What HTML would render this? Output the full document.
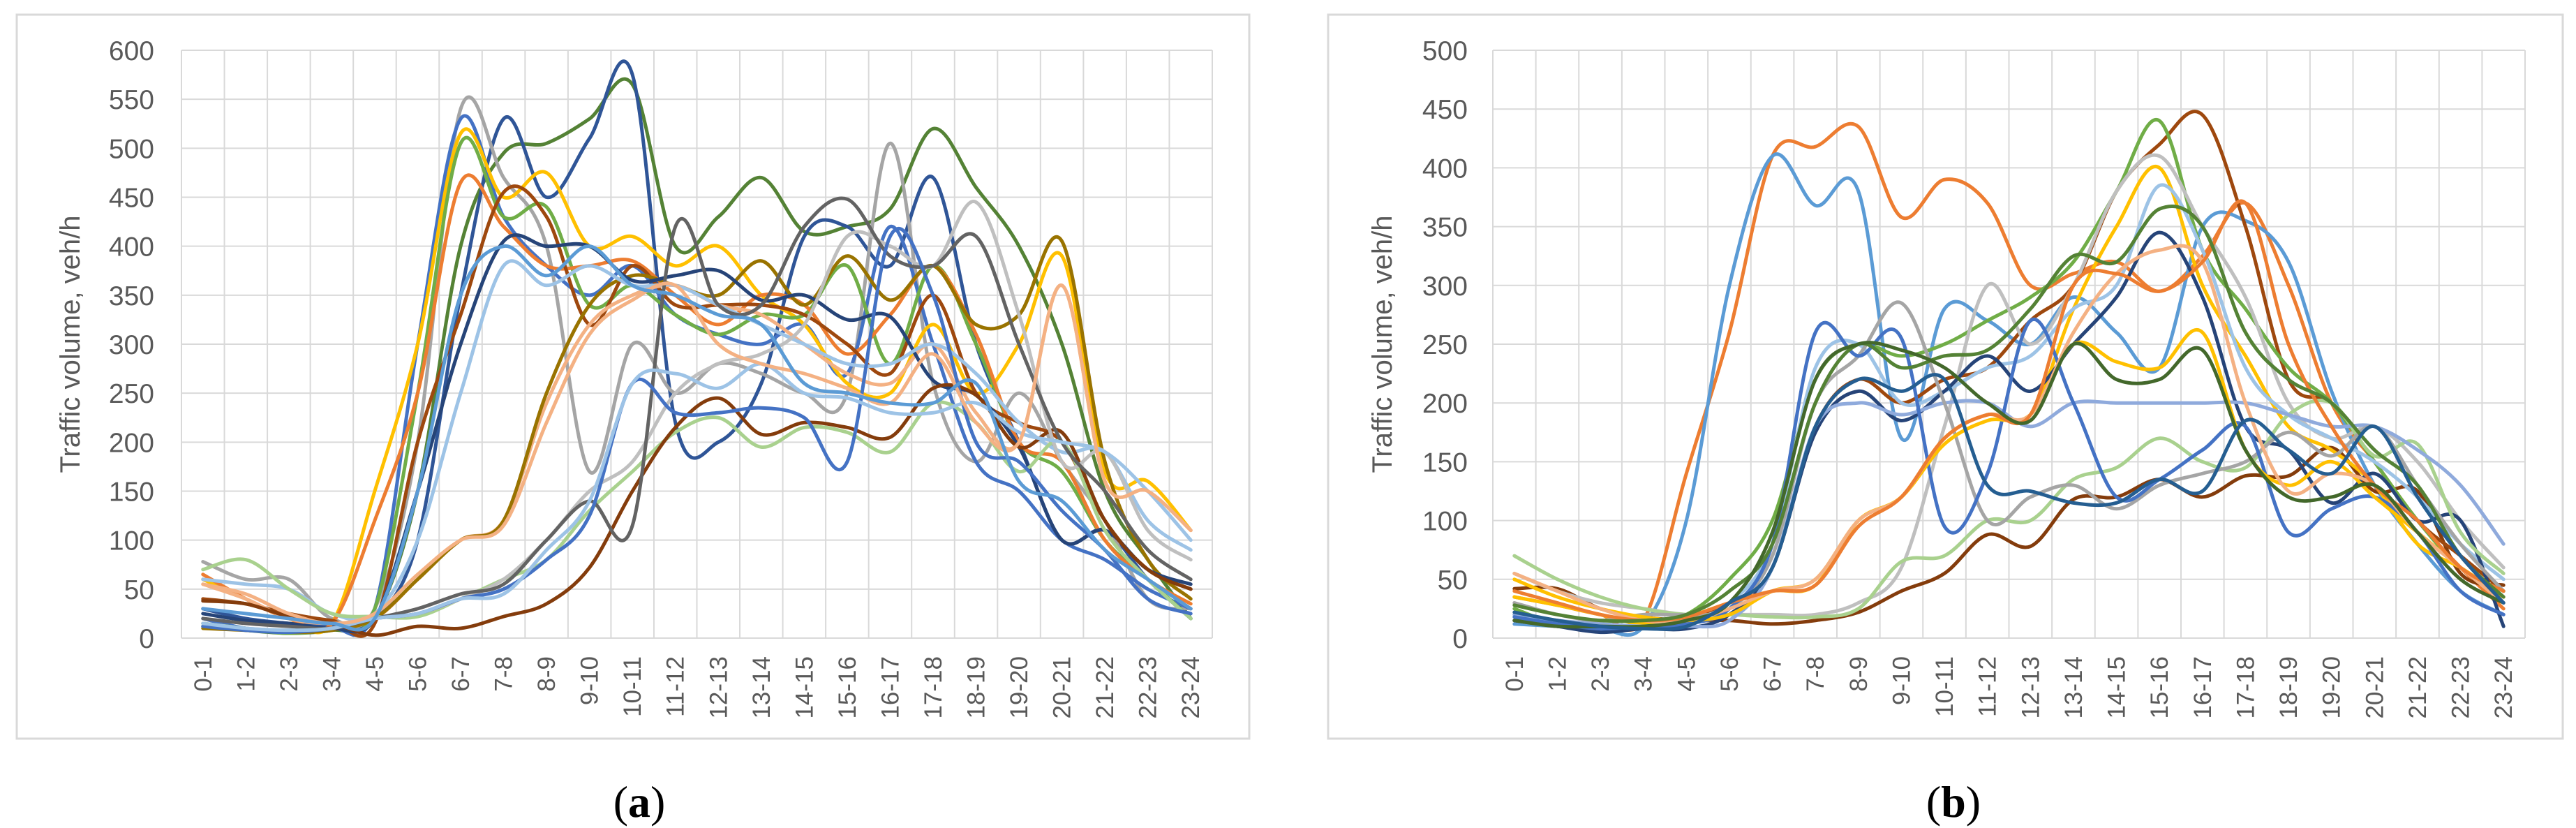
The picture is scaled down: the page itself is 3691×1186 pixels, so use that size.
<!DOCTYPE html>
<html><head><meta charset="utf-8"><style>
html,body{margin:0;padding:0;background:#fff;width:3691px;height:1186px;overflow:hidden}
svg{display:block}
text{font-family:"Liberation Sans",sans-serif}
</style></head><body>
<svg id="chart" width="3691" height="1186" viewBox="0 0 3691 1186"></svg>
<script>
const categories=["0-1","1-2","2-3","3-4","4-5","5-6","6-7","7-8","8-9","9-10","10-11","11-12","12-13","13-14","14-15","15-16","16-17","17-18","18-19","19-20","20-21","21-22","22-23","23-24"];
const colorsA=["#548235","#2F5597","#A5A5A5","#4472C4","#FFC000","#70AD47","#ED7D31","#9E480E","#F4B183","#997300","#264478","#9DC3E6","#A9D18E","#843C0C","#BFBFBF","#636363","#4472C4","#9DC3E6","#F4B183","#5B9BD5"];
const colorsB=["#ED7D31","#5B9BD5","#843C0C","#9E480E","#70AD47","#FFC000","#BFBFBF","#9DC3E6","#264478","#A9D18E","#8FAADC","#A5A5A5","#4472C4","#FFC000","#F4B183","#ED7D31","#548235","#43682B","#255E91"];
const ticksA=[0,50,100,150,200,250,300,350,400,450,500,550,600];
const ticksB=[0,50,100,150,200,250,300,350,400,450,500];
const seriesA1=[12,8,5,8,20,150,400,495,505,530,565,400,430,470,415,420,438,520,460,400,300,150,80,20];
const seriesA2=[30,20,15,12,20,100,350,530,450,510,575,220,200,260,410,420,380,470,300,200,100,110,60,20];
const seriesA3=[78,60,60,20,30,200,540,470,400,170,300,250,280,270,250,250,505,260,180,250,180,120,40,30];
const seriesA4=[20,10,8,10,30,300,530,430,380,350,380,330,310,300,320,270,420,300,180,150,100,80,50,30];
const seriesA5=[60,40,20,15,150,300,515,450,475,400,410,380,400,350,320,260,250,320,250,300,390,170,160,110];
const seriesA6=[15,10,5,10,30,250,505,430,440,340,360,330,310,330,330,380,280,380,300,200,170,100,60,20];
const seriesA7=[65,40,20,15,120,250,465,420,380,380,385,350,320,350,340,290,330,380,310,200,180,100,60,35];
const seriesA8=[40,35,25,18,15,200,330,455,430,320,380,340,340,340,330,300,270,350,250,220,200,120,70,50];
const seriesA9=[55,40,20,15,20,60,100,120,240,320,350,360,340,330,300,270,260,300,230,200,360,160,150,110];
const seriesA10=[10,8,6,8,20,60,100,120,250,340,370,360,350,385,340,390,345,380,320,330,405,180,80,40];
const seriesA11=[25,18,15,10,20,150,300,405,400,400,365,370,375,345,350,325,328,263,248,195,100,110,70,55];
const seriesA12=[60,55,50,25,25,100,250,380,360,380,360,360,340,320,300,280,280,300,270,220,190,190,120,90];
const seriesA13=[70,80,50,25,22,22,40,60,80,130,170,210,225,195,215,210,190,240,220,170,200,110,60,20];
const seriesA14=[38,35,22,15,3,12,10,22,35,72,150,215,245,208,220,215,205,255,248,195,210,120,70,50];
const seriesA15=[15,10,8,10,20,25,40,60,100,150,180,250,280,290,320,410,400,380,445,330,180,190,110,80];
const seriesA16=[20,15,12,10,20,30,45,55,100,140,115,420,340,340,420,448,390,380,410,300,200,150,90,60];
const seriesA17=[12,8,6,10,20,25,40,50,80,125,260,230,230,235,225,180,410,350,200,180,130,90,40,25];
const seriesA18=[15,10,8,10,20,25,40,45,90,140,260,270,255,280,250,245,230,230,240,210,200,190,150,100];
const seriesA19=[55,45,25,15,25,65,100,115,220,310,345,360,300,280,270,255,240,290,220,200,360,160,150,110];
const seriesA20=[30,25,20,15,20,150,350,400,370,400,360,350,330,320,260,250,240,240,260,160,140,90,60,30];
const seriesB1=[35,28,20,15,140,260,410,418,435,358,390,370,300,310,320,295,325,370,300,200,150,100,60,25];
const seriesB2=[12,10,8,10,100,300,410,368,380,170,280,270,250,290,260,230,350,355,320,210,130,80,40,20];
const seriesB3=[42,42,25,18,15,15,12,15,22,40,55,88,78,118,120,135,120,138,138,162,125,125,55,45];
const seriesB4=[15,10,8,10,15,30,60,180,220,200,220,230,270,300,380,420,445,350,220,200,150,100,70,40];
const seriesB5=[25,12,10,12,20,50,100,220,250,240,250,270,290,320,380,440,330,280,230,200,150,100,60,40];
const seriesB6=[35,28,20,12,18,30,40,45,100,120,170,190,190,280,350,400,300,240,180,160,130,80,60,35];
const seriesB7=[55,40,30,25,20,20,20,20,30,60,180,300,250,300,380,410,350,290,200,170,180,150,100,60];
const seriesB8=[20,15,10,10,15,30,80,230,250,200,210,230,240,280,300,385,330,230,190,170,150,120,80,50];
const seriesB9=[15,10,5,8,8,20,60,175,210,185,210,240,210,250,290,345,290,180,160,115,140,100,100,10];
const seriesB10=[70,50,35,25,20,20,18,18,25,65,70,100,100,135,145,170,150,145,190,200,155,165,90,55];
const seriesB11=[20,15,12,10,10,15,60,180,200,190,200,200,180,200,200,200,200,200,190,180,180,160,130,80];
const seriesB12=[30,20,15,20,20,25,70,200,240,285,200,100,120,130,110,130,140,150,175,155,180,130,80,40];
const seriesB13=[18,12,8,10,12,25,80,260,240,255,95,140,270,200,120,135,160,180,90,110,120,90,40,20];
const seriesB14=[50,35,25,18,15,20,40,50,100,120,165,185,190,250,235,230,260,160,130,150,120,90,60,35];
const seriesB15=[55,40,25,15,15,25,40,50,100,120,170,190,190,260,310,330,320,200,125,140,130,90,60,30];
const seriesB16=[40,30,20,15,18,30,40,45,95,120,170,190,190,300,310,295,320,370,250,180,130,100,60,40];
const seriesB17=[28,20,15,15,20,40,80,200,250,230,240,245,280,325,320,365,350,260,220,200,160,130,70,35];
const seriesB18=[15,10,10,10,15,30,90,220,250,245,230,200,185,250,220,220,245,160,120,120,130,90,50,30];
const seriesB19=[22,15,10,8,10,30,60,180,220,210,220,130,125,115,115,135,125,185,160,140,180,120,70,30];

const NS="http://www.w3.org/2000/svg";
const svg=document.getElementById('chart');
function mk(tag,attrs,parent){const e=document.createElementNS(NS,tag);for(const k in attrs)e.setAttribute(k,attrs[k]);(parent||svg).appendChild(e);return e;}
function smooth(pts){let d="M"+pts[0][0]+","+pts[0][1];for(let i=0;i<pts.length-1;i++){const p0=pts[Math.max(0,i-1)],p1=pts[i],p2=pts[i+1],p3=pts[Math.min(pts.length-1,i+2)];const t=1/6;d+=" C"+(p1[0]+(p2[0]-p0[0])*t)+","+(p1[1]+(p2[1]-p0[1])*t)+" "+(p2[0]-(p3[0]-p1[0])*t)+","+(p2[1]-(p3[1]-p1[1])*t)+" "+p2[0]+","+p2[1];}return d;}

function panel(cfg){
  const g=mk('g',{});
  
  
  const fr=mk('rect',{x:cfg.fx,y:21,width:cfg.fw,height:1037,fill:'#fff',stroke:'#d9d9d9','stroke-width':3},g);
  
  
  const L=cfg.left,R=cfg.right,T=72,B=914,max=cfg.ticks[cfg.ticks.length-1];
  const n=categories.length,cw=(R-L)/n;
  const xs=i=>L+cw*(i+0.5);
  const ys=v=>B-(v/max)*(B-T);
  cfg.ticks.forEach(t=>{
    const ln=mk('line',{x1:L,x2:R,y1:ys(t),y2:ys(t),stroke:'#d9d9d9','stroke-width':2},g);
    
    
    const tx=mk('text',{x:cfg.labRight,y:ys(t)+14,'text-anchor':'end','font-size':39,fill:'#595959'},g);
    tx.textContent=t;
    
    
  });
  for(let i=0;i<=n;i++){
    const ln=mk('line',{x1:L+cw*i,x2:L+cw*i,y1:T,y2:B,stroke:'#d9d9d9','stroke-width':2},g);
    
    
  }
  categories.forEach((c,i)=>{
    const tx=mk('text',{transform:'translate('+(xs(i)+12)+',940) rotate(-90)','text-anchor':'end','font-size':35,fill:'#595959'},g);
    tx.textContent=c;
    
    
  });
  const yt=mk('text',{transform:'translate('+(cfg.titleX)+',493) rotate(-90)','text-anchor':'middle','font-size':40,fill:'#595959'},g);
  yt.textContent='Traffic volume, veh/h';
  
  
  cfg.series.forEach((s,k)=>{
    const p=mk('path',{d:smooth(s.map((v,i)=>[xs(i),ys(v)])),fill:'none',stroke:cfg.colors[k%cfg.colors.length],'stroke-width':5,'stroke-linejoin':'round','stroke-linecap':'round'},g);
    
    
  });
  const cap=mk('text',{x:cfg.capX,y:1170,'text-anchor':'middle','font-size':64,fill:'#000'},g);
  cap.style.fontFamily='"Liberation Serif",serif';
  cap.innerHTML='(<tspan font-weight="bold">'+cfg.cap+'</tspan>)';
  
  
}
panel({name:'panel-a',fx:24,fw:1766,left:260,right:1737,labRight:221,titleX:114,capX:916,cap:'a',ticks:ticksA,colors:colorsA,
 series:[seriesA1,seriesA2,seriesA3,seriesA4,seriesA5,seriesA6,seriesA7,seriesA8,seriesA9,seriesA10,seriesA11,seriesA12,seriesA13,seriesA14,seriesA15,seriesA16,seriesA17,seriesA18,seriesA19,seriesA20]});
panel({name:'panel-b',fx:1903,fw:1769,left:2139,right:3618,labRight:2103,titleX:1994,capX:2799,cap:'b',ticks:ticksB,colors:colorsB,
 series:[seriesB1,seriesB2,seriesB3,seriesB4,seriesB5,seriesB6,seriesB7,seriesB8,seriesB9,seriesB10,seriesB11,seriesB12,seriesB13,seriesB14,seriesB15,seriesB16,seriesB17,seriesB18,seriesB19]});
</script>
</body></html>
